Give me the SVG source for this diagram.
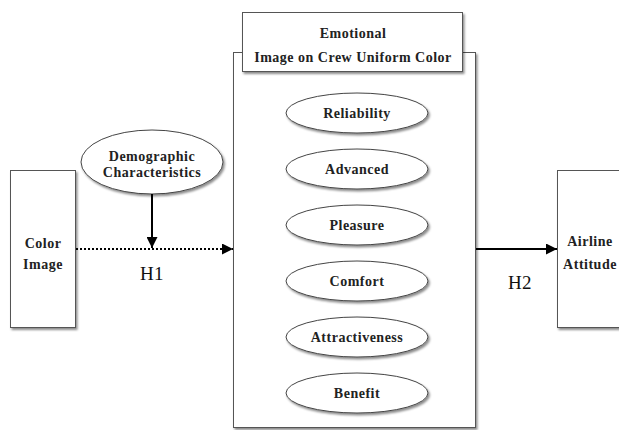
<svg xmlns="http://www.w3.org/2000/svg" width="619" height="430" viewBox="0 0 619 430">
<defs>
<style>
.box{fill:#fff;stroke:#555;stroke-width:1}
.ell{fill:#fff;stroke:#444;stroke-width:1}
.lbl{font-family:"Liberation Serif","DejaVu Serif",serif;font-weight:bold;font-size:14px;fill:#222;text-anchor:middle;letter-spacing:0.5px}
.h{font-family:"Liberation Serif","DejaVu Serif",serif;font-size:19px;fill:#111;text-anchor:middle;letter-spacing:0.5px}
.ln{stroke:#000;stroke-width:2;fill:none}
</style>
<filter id="sh" x="-10%" y="-10%" width="125%" height="130%">
<feDropShadow dx="1.5" dy="2" stdDeviation="1.2" flood-color="#000" flood-opacity="0.45"/>
</filter>
<marker id="ah" viewBox="0 0 10 10" refX="10" refY="5" markerWidth="5.5" markerHeight="5.5" orient="auto" markerUnits="strokeWidth">
<path d="M0,0 L10,5 L0,10 z" fill="#000"/>
</marker>
</defs>
<rect width="619" height="430" fill="#fff"/>

<g id="container">
<rect class="box" x="233.5" y="52.5" width="242" height="375" filter="url(#sh)"/>
</g>
<g id="title">
<rect class="box" x="242.5" y="12.5" width="220" height="59" filter="url(#sh)"/>
<text class="lbl" x="353" y="38">Emotional</text>
<text class="lbl" x="353" y="62">Image on Crew Uniform Color</text>
</g>

<g id="color-image">
<rect class="box" x="10.5" y="170.5" width="65" height="157" filter="url(#sh)"/>
<text class="lbl" x="43" y="248">Color</text>
<text class="lbl" x="43" y="269">Image</text>
</g>

<g id="airline-attitude">
<rect class="box" x="557.5" y="170.5" width="70" height="157" filter="url(#sh)"/>
<text class="lbl" x="590" y="246">Airline</text>
<text class="lbl" x="590" y="269">Attitude</text>
</g>

<g id="demographic">
<ellipse class="ell" cx="152" cy="162" rx="71" ry="32" filter="url(#sh)"/>
<text class="lbl" x="152" y="161">Demographic</text>
<text class="lbl" x="152" y="177">Characteristics</text>
</g>

<g id="reliability">
<ellipse class="ell" cx="357" cy="113" rx="71" ry="20" filter="url(#sh)"/>
<text class="lbl" x="357" y="118">Reliability</text>
</g>
<g id="advanced">
<ellipse class="ell" cx="357" cy="169" rx="71" ry="20" filter="url(#sh)"/>
<text class="lbl" x="357" y="174">Advanced</text>
</g>
<g id="pleasure">
<ellipse class="ell" cx="357" cy="225" rx="71" ry="20" filter="url(#sh)"/>
<text class="lbl" x="357" y="230">Pleasure</text>
</g>
<g id="comfort">
<ellipse class="ell" cx="357" cy="281" rx="71" ry="20" filter="url(#sh)"/>
<text class="lbl" x="357" y="286">Comfort</text>
</g>
<g id="attractiveness">
<ellipse class="ell" cx="357" cy="337" rx="71" ry="20" filter="url(#sh)"/>
<text class="lbl" x="357" y="342">Attractiveness</text>
</g>
<g id="benefit">
<ellipse class="ell" cx="357" cy="393" rx="71" ry="20" filter="url(#sh)"/>
<text class="lbl" x="357" y="398">Benefit</text>
</g>

<g id="connectors">
<line class="ln" x1="152" y1="194" x2="152" y2="248" marker-end="url(#ah)"/>
<line class="ln" x1="76" y1="249" x2="233" y2="249" stroke-dasharray="2,2" marker-end="url(#ah)"/>
<line class="ln" x1="476" y1="249" x2="557" y2="249" marker-end="url(#ah)"/>
<text class="h" x="152" y="280">H1</text>
<text class="h" x="520" y="289">H2</text>
</g>
</svg>
